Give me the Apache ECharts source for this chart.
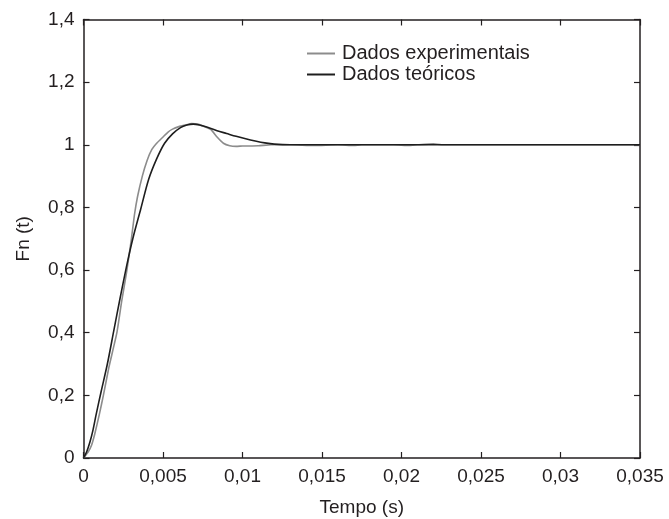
<!DOCTYPE html>
<html>
<head>
<meta charset="utf-8">
<script src="https://cdn.jsdelivr.net/npm/echarts@6/dist/echarts.min.js"></script>
<style>
  html, body { margin: 0; padding: 0; background: #fff; }
  #chart { width: 669px; height: 519px; }
</style>
</head>
<body>
<div id="chart"></div>
<script>
// curva experimental (cinza)
const expTime = [0, 0.0003, 0.0005, 0.0007, 0.0010, 0.00125, 0.0016, 0.0021, 0.0024, 0.0027, 0.0030, 0.0032, 0.0034, 0.0037,
  0.0040, 0.0043, 0.0046, 0.0050, 0.0053, 0.0056, 0.0060, 0.0064, 0.0068, 0.0072, 0.0076, 0.0080, 0.0084, 0.0088,
  0.0092, 0.0096, 0.0100, 0.0110, 0.0118, 0.0130, 0.0145, 0.0160, 0.0170, 0.0175, 0.0195, 0.0205, 0.0210, 0.0220,
  0.0225, 0.0350];
const expVal = [0, 0.02, 0.04, 0.075, 0.14, 0.20, 0.29, 0.40, 0.50, 0.59, 0.695, 0.775, 0.835, 0.90,
  0.95, 0.985, 1.005, 1.025, 1.04, 1.05, 1.058, 1.063, 1.068, 1.066, 1.058, 1.049, 1.025, 1.005,
  0.997, 0.995, 0.996, 0.997, 1.0, 1.0, 0.998, 1.0, 0.998, 1.0, 1.0, 0.998, 1.0, 1.003,
  1.0, 1.0];

// curva teorica (preta)
const theoTime = [0, 0.0002, 0.0004, 0.0006, 0.0008, 0.0011, 0.0015, 0.0019, 0.0023, 0.0027, 0.0031, 0.0036, 0.0041,
  0.0046, 0.0051, 0.0056, 0.0061, 0.0065, 0.0069, 0.0073, 0.0078, 0.0084, 0.0090, 0.0096, 0.0102, 0.0108, 0.0114,
  0.0120, 0.0130, 0.0150, 0.0200, 0.0250, 0.0300, 0.0350];
const theoVal = [0, 0.02, 0.05, 0.09, 0.14, 0.21, 0.30, 0.405, 0.51, 0.61, 0.70, 0.795, 0.89,
  0.955, 1.005, 1.035, 1.055, 1.063, 1.066, 1.063, 1.056, 1.045, 1.036, 1.027, 1.019, 1.012, 1.006,
  1.002, 1.0, 1.0, 1.0, 1.0, 1.0, 1.0];

const xTicks = [0, 0.005, 0.01, 0.015, 0.02, 0.025, 0.03, 0.035];
const yTicks = [0, 0.2, 0.4, 0.6, 0.8, 1, 1.2, 1.4];

const seriesNames = ['Dados experimentais', 'Dados teóricos'];

const fmt = v => String(+v.toFixed(3)).replace('.', ',');
const font = 'Liberation Sans, Arial, sans-serif';
const ink = '#231f20';

const chart = echarts.init(document.getElementById('chart'), null, { renderer: 'canvas' });

const baseX = {
  type: 'value', min: 0, max: xTicks[xTicks.length - 1], interval: 0.005,
  axisLine: { show: true, onZero: false, lineStyle: { color: ink, width: 1.5 } },
  axisTick: { show: true, inside: true, length: 6, lineStyle: { color: ink, width: 1.2 } },
  splitLine: { show: false }
};
const baseY = {
  type: 'value', min: 0, max: yTicks[yTicks.length - 1], interval: 0.2,
  axisLine: { show: true, onZero: false, lineStyle: { color: ink, width: 1.5 } },
  axisTick: { show: true, inside: true, length: 6, lineStyle: { color: ink, width: 1.2 } },
  splitLine: { show: false }
};

chart.setOption({
  animation: false,
  backgroundColor: '#fff',
  grid: { left: 83.5, right: 29, top: 19.5, bottom: 61, outerBoundsMode: 'none', containLabel: false },
  legend: {
    orient: 'vertical', left: 307, top: 43, padding: 0,
    icon: 'rect', itemWidth: 28, itemHeight: 2, itemGap: 0,
    textStyle: { fontFamily: font, fontSize: 20, color: ink, lineHeight: 21, padding: [0, 0, 0, 2] },
    data: seriesNames
  },
  xAxis: [
    Object.assign({}, baseX, {
      position: 'bottom',
      name: 'Tempo (s)', nameLocation: 'middle', nameGap: 40,
      nameTextStyle: { fontFamily: font, fontSize: 19, color: ink },
      axisLabel: { margin: 9, fontFamily: font, fontSize: 19, color: ink, formatter: fmt }
    }),
    Object.assign({}, baseX, { position: 'top', axisLabel: { show: false } })
  ],
  yAxis: [
    Object.assign({}, baseY, {
      position: 'left',
      name: 'Fn (t)', nameLocation: 'middle', nameGap: 50,
      nameTextStyle: { fontFamily: font, fontSize: 19, color: ink },
      axisLabel: { margin: 9, fontFamily: font, fontSize: 19, color: ink, formatter: fmt }
    }),
    Object.assign({}, baseY, { position: 'right', axisLabel: { show: false } })
  ],
  series: [
    {
      name: seriesNames[0], type: 'line', showSymbol: false, smooth: 0.15,
      data: expTime.map((t, i) => [t, expVal[i]]),
      lineStyle: { color: '#8c8c8c', width: 1.6 },
      itemStyle: { color: '#8c8c8c' }
    },
    {
      name: seriesNames[1], type: 'line', showSymbol: false, smooth: 0.3,
      data: theoTime.map((t, i) => [t, theoVal[i]]),
      lineStyle: { color: '#1e1e1e', width: 1.6 },
      itemStyle: { color: '#1e1e1e' }
    }
  ]
});
</script>
</body>
</html>
